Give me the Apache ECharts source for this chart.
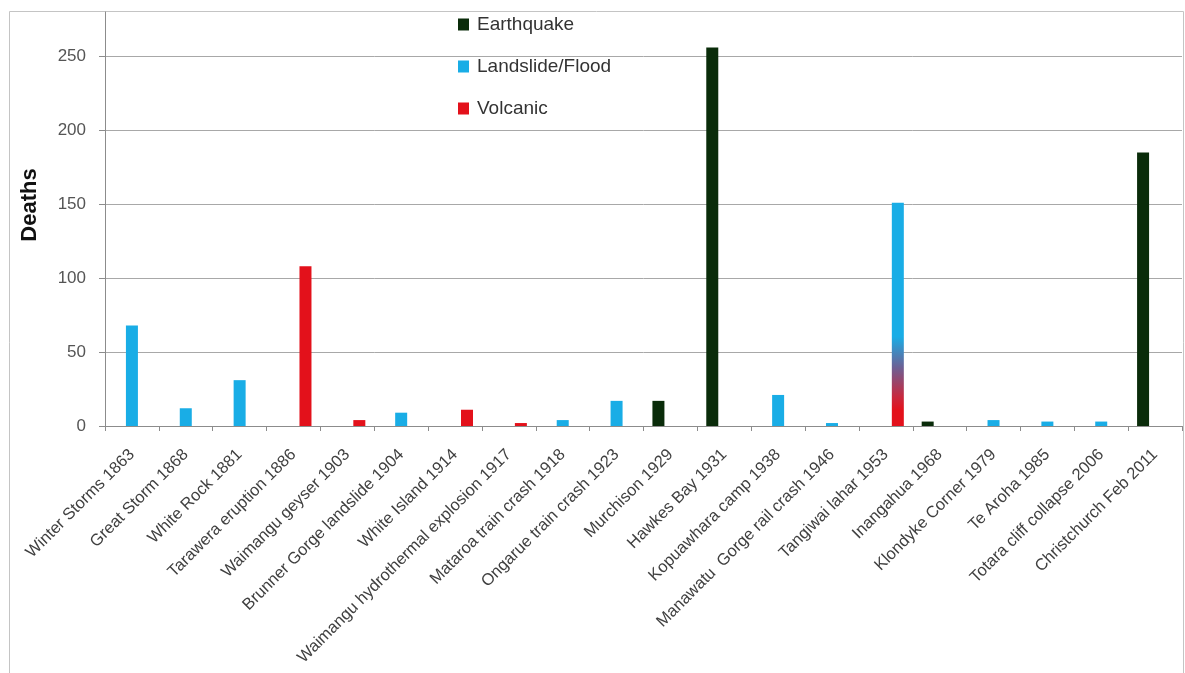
<!DOCTYPE html>
<html>
<head>
<meta charset="utf-8">
<script src="https://cdn.jsdelivr.net/npm/echarts@6/dist/echarts.min.js"></script>
<style>
html,body{margin:0;padding:0;background:#fff;}
#chart{width:1185px;height:673px;}
</style>
</head>
<body>
<div id="chart"></div>
<script>
const categories = [
  "Winter Storms 1863", "Great Storm 1868", "White Rock 1881", "Tarawera eruption 1886",
  "Waimangu geyser 1903", "Brunner Gorge landslide 1904", "White Island 1914",
  "Waimangu hydrothermal explosion 1917", "Mataroa train crash 1918", "Ongarue train crash 1923",
  "Murchison 1929", "Hawkes Bay 1931", "Kopuawhara camp 1938", "Manawatu  Gorge rail crash 1946",
  "Tangiwai lahar 1953", "Inangahua 1968", "Klondyke Corner 1979", "Te Aroha 1985",
  "Totara cliff collapse 2006", "Christchurch Feb 2011"
];
const earthquake = [null, null, null, null, null, null, null, null, null, null,
  17, 256, null, null, null, 3, null, null, null, 185];
const landslideFlood = [68, 12, 31, null, null, 9, null, null, 4, 17,
  null, null, 21, 2, null, null, 4, 3, 3, null];
const volcanic = [null, null, null, 108, 4, null, 11, 2, null, null,
  null, null, null, null, 151, null, null, null, null, null];
const yTicks = [0, 50, 100, 150, 200, 250];
const mixedIndex = 14; // Tangiwai lahar: volcanic + flood, drawn with a gradient

const C_EQ = '#0a2c0a', C_LF = '#19ade6', C_VO = '#e3111b';

const volcanicData = volcanic.map((v, i) => {
  if (i === mixedIndex) {
    return {
      value: v,
      itemStyle: {
        color: new echarts.graphic.LinearGradient(0, 0, 0, 1, [
          {offset: 0, color: C_LF},
          {offset: 0.6, color: C_LF},
          {offset: 0.74, color: '#6e5f93'},
          {offset: 0.87, color: '#c8283e'},
          {offset: 0.93, color: C_VO},
          {offset: 1, color: C_VO}
        ])
      }
    };
  }
  return v;
});

const chart = echarts.init(document.getElementById('chart'), null, {renderer: 'canvas'});
const textColor = '#404040';
const font = 'Liberation Sans, Arial, sans-serif';

chart.setOption({
  animation: false,
  backgroundColor: '#fff',
  graphic: [{
    type: 'rect', left: 7, top: 9, silent: true, z: -1,
    shape: {width: 1174, height: 700},
    style: {fill: 'none', stroke: '#c4c4c4', lineWidth: 1}
  }],
  legend: {
    orient: 'vertical',
    left: 458, top: 15,
    padding: 0,
    itemWidth: 11, itemHeight: 12,
    itemGap: 23,
    icon: 'rect',
    textStyle: {fontSize: 19, color: '#333', fontFamily: font, padding: [0, 0, 0, 3]},
    data: ['Earthquake', 'Landslide/Flood', 'Volcanic']
  },
  grid: {left: 105, right: 3, top: 12, bottom: 247, containLabel: false},
  xAxis: {
    type: 'category',
    data: categories,
    axisLine: {lineStyle: {color: '#8c8c8c', width: 1}},
    axisTick: {show: true, length: 5, lineStyle: {color: '#8c8c8c'}},
    axisLabel: {rotate: 45, interval: 0, fontSize: 16.5, color: textColor, fontFamily: font, margin: 26}
  },
  yAxis: {
    type: 'value',
    min: 0, max: 280, interval: 50,
    name: 'Deaths',
    nameLocation: 'middle',
    nameRotate: 90,
    nameGap: 64,
    nameTextStyle: {fontSize: 22, fontWeight: 'bold', color: '#111', fontFamily: font, padding: [0, 0, 0, 28]},
    axisLine: {show: true, lineStyle: {color: '#8c8c8c'}},
    axisTick: {show: true, length: 6, lineStyle: {color: '#8c8c8c'}},
    axisLabel: {fontSize: 17, color: '#555', fontFamily: font, margin: 19, showMaxLabel: false,
      formatter: v => yTicks.includes(v) ? String(v) : ''},
    splitLine: {show: true, showMaxLine: false, lineStyle: {color: '#a8a8a8', width: 1}}
  },
  series: [
    {name: 'Earthquake', type: 'bar', data: earthquake, barWidth: 12, barGap: '0%', itemStyle: {color: C_EQ}},
    {name: 'Landslide/Flood', type: 'bar', data: landslideFlood, barWidth: 12, barGap: '0%', itemStyle: {color: C_LF}},
    {name: 'Volcanic', type: 'bar', data: volcanicData, barWidth: 12, barGap: '0%', itemStyle: {color: C_VO}}
  ]
});
</script>
</body>
</html>
